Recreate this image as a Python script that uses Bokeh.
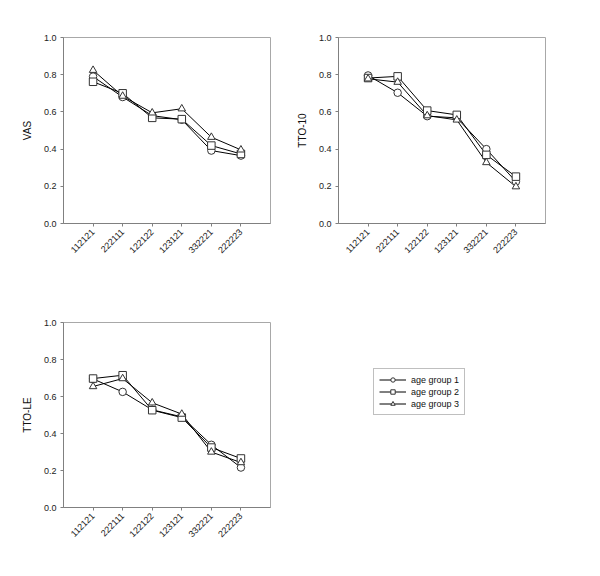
import math
from bokeh.plotting import figure
from bokeh.layouts import column, row
from bokeh.models import FixedTicker, NumeralTickFormatter, Legend, LegendItem
from bokeh.embed import file_html
from bokeh.resources import INLINE

categories = ["112121", "222111", "122122", "123121", "332221", "222223"]
yticks = [0.0, 0.2, 0.4, 0.6, 0.8, 1.0]
series_names = ["age group 1", "age group 2", "age group 3"]

vas_g1 = [0.79, 0.68, 0.58, 0.558, 0.392, 0.365]
vas_g2 = [0.762, 0.70, 0.568, 0.561, 0.419, 0.374]
vas_g3 = [0.824, 0.685, 0.595, 0.617, 0.464, 0.396]

tto10_g1 = [0.796, 0.703, 0.577, 0.568, 0.40, 0.225]
tto10_g2 = [0.782, 0.791, 0.607, 0.584, 0.369, 0.252]
tto10_g3 = [0.778, 0.76, 0.58, 0.557, 0.328, 0.198]

ttole_g1 = [0.695, 0.625, 0.528, 0.49, 0.339, 0.216]
ttole_g2 = [0.697, 0.715, 0.526, 0.486, 0.324, 0.265]
ttole_g3 = [0.654, 0.697, 0.566, 0.505, 0.30, 0.243]

FONT = "Liberation Sans"
AXIS_COL = "#808080"
MARKERS = ["circle", "square", "triangle"]
MSIZE = 7.5


def make_panel(label, g1, g2, g3, left, right, top, bottom, fh):
    n = len(categories)
    xs = list(range(1, n + 1))
    p = figure(frame_width=207, frame_height=fh, x_range=(0, n + 1), y_range=(0, 1.0),
               output_backend="svg", toolbar_location=None,
               min_border_left=left, min_border_right=right, min_border_top=top,
               min_border_bottom=bottom)
    p.xgrid.visible = False
    p.ygrid.visible = False
    p.outline_line_color = "#a8a8a8"
    p.outline_line_width = 1
    p.background_fill_color = "white"
    p.border_fill_color = "white"
    for ax in (p.xaxis[0], p.yaxis[0]):
        ax.axis_line_color = AXIS_COL
        ax.major_tick_line_color = AXIS_COL
        ax.major_tick_out = 3
        ax.major_tick_in = 0
        ax.minor_tick_line_color = None
        ax.major_label_text_font = FONT
        ax.major_label_text_font_size = "9px"
        ax.major_label_text_color = "#222222"
        ax.major_label_standoff = 4
    p.xaxis.ticker = FixedTicker(ticks=xs)
    p.xaxis.major_label_overrides = {x: c for x, c in zip(xs, categories)}
    p.xaxis.major_label_orientation = math.pi / 4
    p.yaxis.ticker = FixedTicker(ticks=yticks)
    p.yaxis.formatter = NumeralTickFormatter(format="0.0")
    p.yaxis.axis_label = label
    p.yaxis.axis_label_text_font = FONT
    p.yaxis.axis_label_text_font_size = "10px"
    p.yaxis.axis_label_text_font_style = "normal"
    p.yaxis.axis_label_text_color = "#111111"
    p.yaxis.axis_label_standoff = 8
    for ys in (g1, g2, g3):
        p.line(xs, ys, line_color="black", line_width=1)
    for ys, m in zip((g1, g2, g3), MARKERS):
        p.scatter(xs, ys, marker=m, size=MSIZE, fill_color="white", line_color="#333333", line_width=1)
    return p


p1 = make_panel("VAS", vas_g1, vas_g2, vas_g3, 63, 13, 37, 67, 186)
p2 = make_panel("TTO-10", tto10_g1, tto10_g2, tto10_g3, 55, 13, 37, 67, 186)
p3 = make_panel("TTO-LE", ttole_g1, ttole_g2, ttole_g3, 63, 13, 32, 60, 185)

# legend panel (same frame rows as p3)
nan = float("nan")
p4 = figure(frame_width=260, frame_height=185, output_backend="svg", toolbar_location=None,
            min_border_left=0, min_border_right=0, min_border_top=32, min_border_bottom=60,
            x_range=(0, 1), y_range=(0, 1))
p4.axis.visible = False
p4.xgrid.visible = False
p4.ygrid.visible = False
p4.outline_line_color = None
p4.title.visible = False
items = []
for name, m in zip(series_names, MARKERS):
    lr = p4.line(x=[nan], y=[nan], line_color="black", line_width=1)
    sr = p4.scatter(x=[nan], y=[nan], marker=m, size=MSIZE, fill_color="white",
                    line_color="#333333", line_width=1)
    items.append(LegendItem(label=name, renderers=[lr, sr]))
legend = Legend(items=items, location=(90, 92), border_line_color="#808080", border_line_width=1,
                label_text_font=FONT, label_text_font_size="9px", label_text_color="#111111",
                glyph_width=27, glyph_height=11, label_height=11, label_standoff=5,
                spacing=1, padding=5, margin=0, background_fill_color="white")
p4.add_layout(legend, "center")

layout = column(row(p1, p2), row(p3, p4))
open("out.html", "w").write(file_html(layout, INLINE))
